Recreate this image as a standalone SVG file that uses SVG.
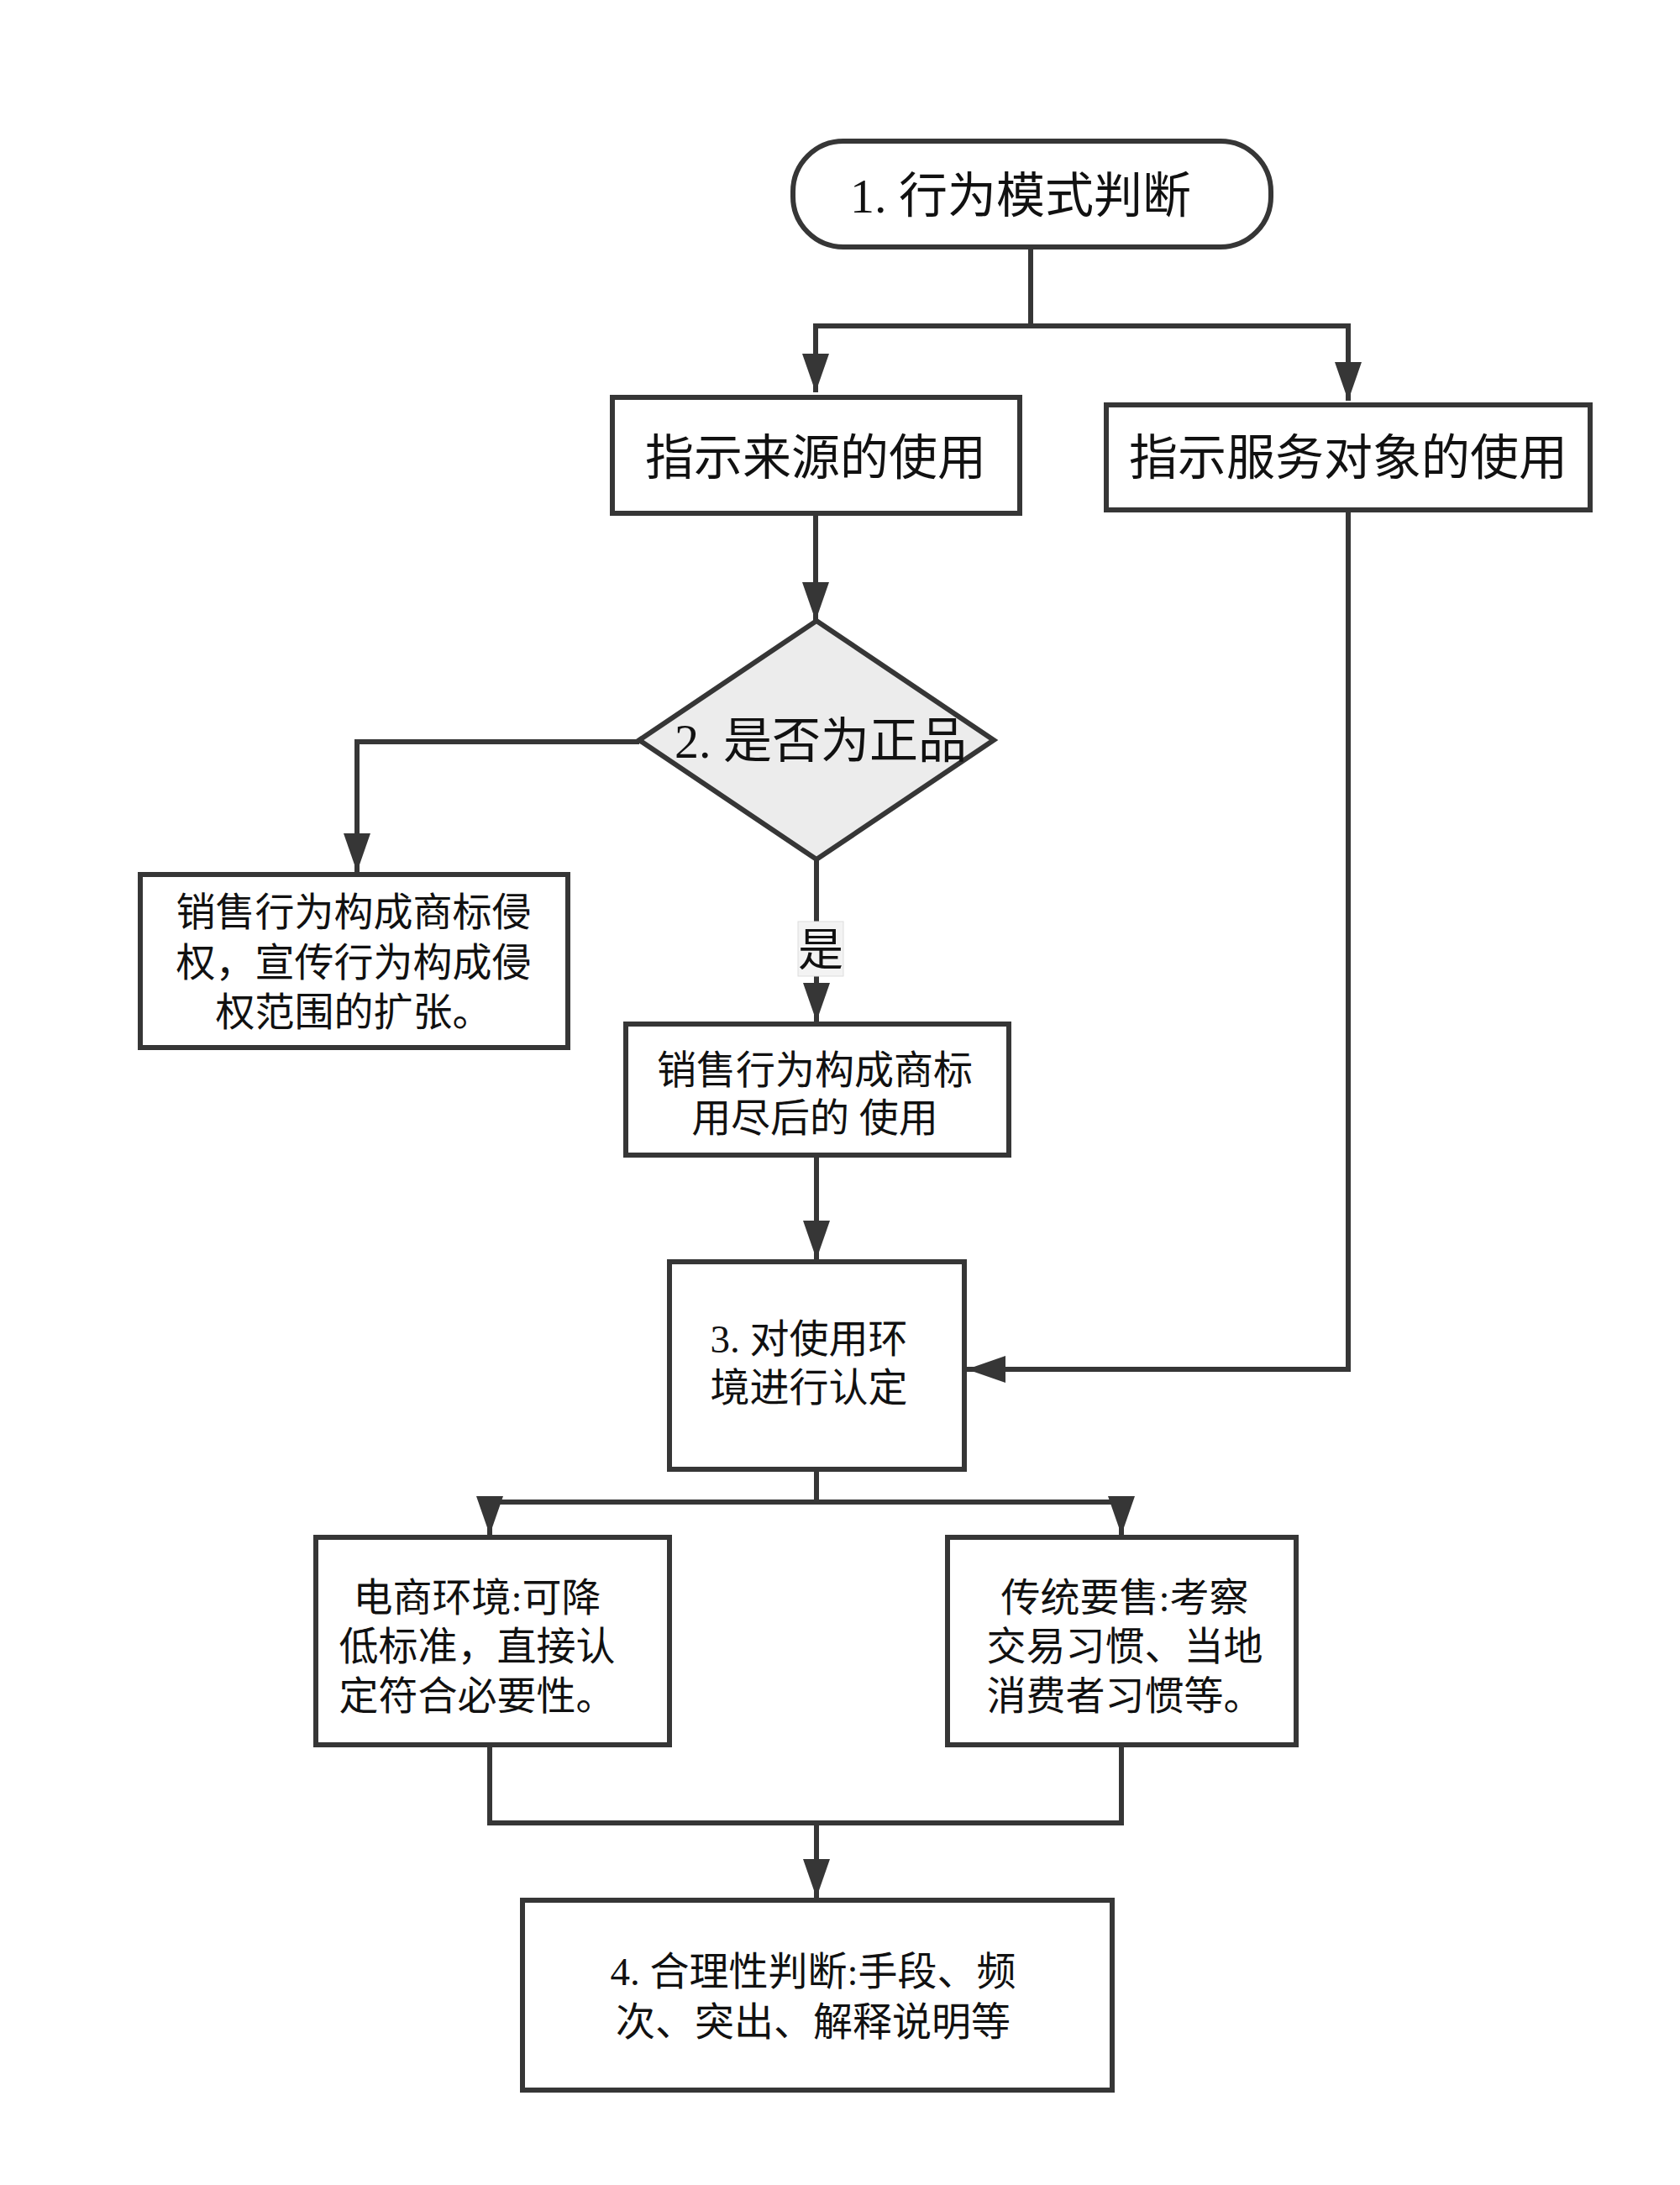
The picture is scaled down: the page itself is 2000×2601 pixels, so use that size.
<svg xmlns="http://www.w3.org/2000/svg" width="2000" height="2601" viewBox="0 0 2000 2601">
<style>
.shape{fill:#ffffff;stroke:#363636;stroke-width:6}
.dia{fill:#ececec;stroke:#363636;stroke-width:6}
.conn{fill:none;stroke:#363636;stroke-width:6;stroke-linejoin:miter}
.t{font-family:"Liberation Serif","Noto Sans CJK SC",serif;fill:#111111;text-anchor:middle}
.big{font-size:58px}
.sm{font-size:47px}
</style>
<defs>
<marker id="arr" markerUnits="userSpaceOnUse" markerWidth="48" markerHeight="34" refX="46" refY="16" orient="auto">
<path d="M0,0 L46,16 L0,32 z" fill="#363636"/>
</marker>
</defs>
<rect width="2000" height="2601" fill="#ffffff"/>
<g id="connectors">
<path class="conn" d="M1227,294 V388"/>
<path class="conn" d="M1227,388 H971 V467" marker-end="url(#arr)"/>
<path class="conn" d="M1227,388 H1605 V477" marker-end="url(#arr)"/>
<path class="conn" d="M971,611 V739" marker-end="url(#arr)"/>
<path class="conn" d="M761,883 H425 V1038" marker-end="url(#arr)"/>
<path class="conn" d="M972,1023 V1216" marker-end="url(#arr)"/>
<path class="conn" d="M972,1375 V1499" marker-end="url(#arr)"/>
<path class="conn" d="M1605,607 V1630 H1151" marker-end="url(#arr)"/>
<path class="conn" d="M972,1749 V1788"/>
<path class="conn" d="M972,1788 H583 V1827" marker-end="url(#arr)"/>
<path class="conn" d="M972,1788 H1335 V1827" marker-end="url(#arr)"/>
<path class="conn" d="M583,2077 V2170 H1335 V2077"/>
<path class="conn" d="M972,2170 V2259" marker-end="url(#arr)"/>
<g id="label-yes">
<rect x="950" y="1097" width="54" height="65" fill="#f3f3f3" stroke="#dddddd" stroke-width="1"/>
<text class="t" x="977" y="1150" font-size="54">是</text>
</g>
</g>
<g id="n1">
<rect class="shape" x="944" y="168" width="569" height="126" rx="60" ry="60"/>
<text class="t big" x="1215" y="253">1. 行为模式判断</text>
</g>
<g id="n2">
<rect class="shape" x="729" y="473" width="485" height="138"/>
<text class="t big" x="971" y="565">指示来源的使用</text>
</g>
<g id="n3">
<rect class="shape" x="1317" y="482" width="576" height="125"/>
<text class="t big" x="1605" y="565">指示服务对象的使用</text>
</g>
<g id="n4">
<polygon class="dia" points="972,739 1183,881 972,1023 761,881"/>
<text class="t big" x="977" y="902">2. 是否为正品</text>
</g>
<g id="n5">
<rect class="shape" x="167" y="1041" width="509" height="206"/>
<text class="t sm" x="421" y="1102">销售行为构成商标侵</text>
<text class="t sm" x="421" y="1162">权，宣传行为构成侵</text>
<text class="t sm" x="421" y="1221">权范围的扩张。</text>
</g>
<g id="n6">
<rect class="shape" x="745" y="1219" width="456" height="156"/>
<text class="t sm" x="970" y="1290">销售行为构成商标</text>
<text class="t sm" x="970" y="1347">用尽后的 使用</text>
</g>
<g id="n7">
<rect class="shape" x="797" y="1502" width="351" height="247"/>
<text class="t sm" x="963" y="1610">3. 对使用环</text>
<text class="t sm" x="963" y="1668">境进行认定</text>
</g>
<g id="n8">
<rect class="shape" x="376" y="1830" width="421" height="247"/>
<text class="t sm" x="568" y="1918">电商环境:可降</text>
<text class="t sm" x="568" y="1976">低标准，直接认</text>
<text class="t sm" x="568" y="2035">定符合必要性。</text>
</g>
<g id="n9">
<rect class="shape" x="1128" y="1830" width="415" height="247"/>
<text class="t sm" x="1339" y="1918">传统要售:考察</text>
<text class="t sm" x="1339" y="1976">交易习惯、当地</text>
<text class="t sm" x="1339" y="2035">消费者习惯等。</text>
</g>
<g id="n10">
<rect class="shape" x="622" y="2262" width="702" height="226"/>
<text class="t sm" x="968" y="2363">4. 合理性判断:手段、频</text>
<text class="t sm" x="968" y="2423">次、突出、解释说明等</text>
</g>
</svg>
